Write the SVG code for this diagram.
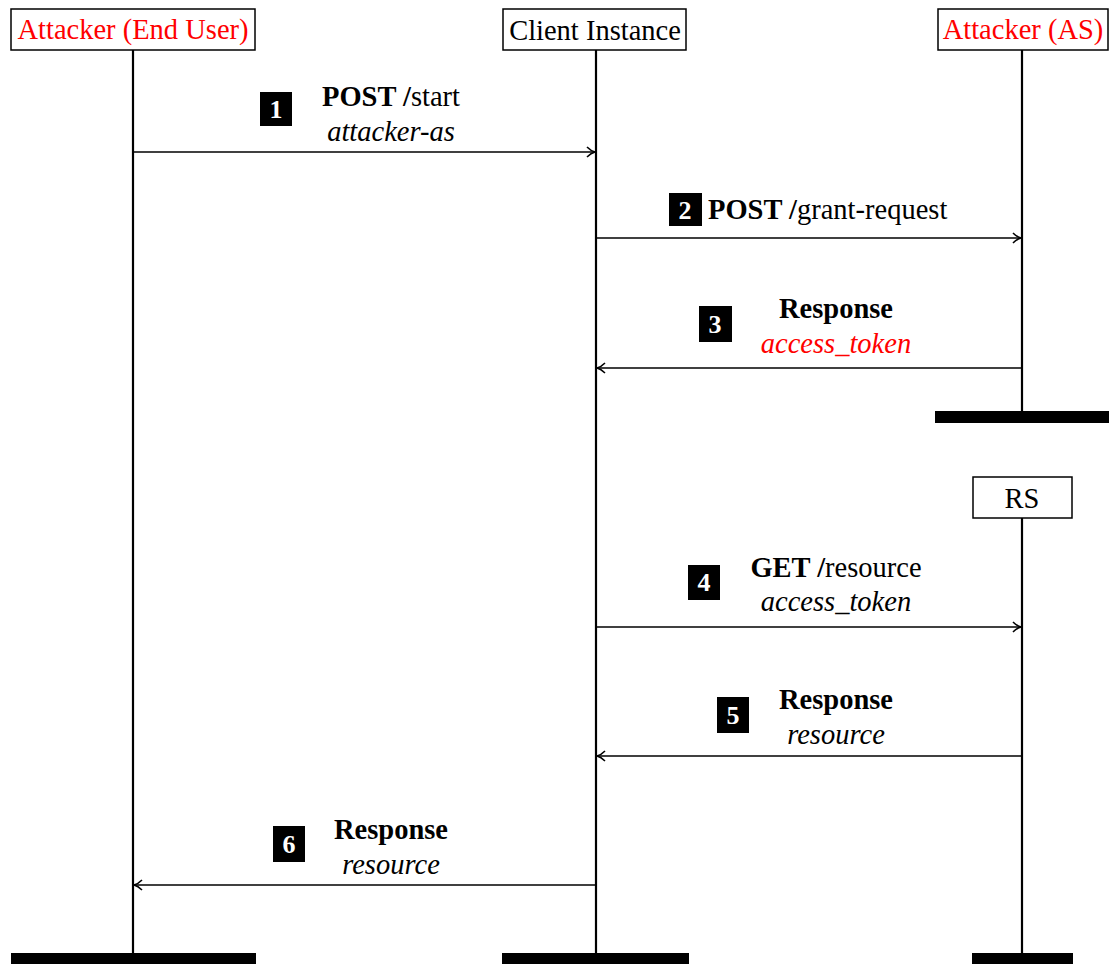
<svg xmlns="http://www.w3.org/2000/svg" width="1109" height="964" viewBox="0 0 1109 964">
<style>
text{font-family:"Liberation Serif","Times New Roman",serif;font-size:28.5px;fill:#000}
.red{fill:#ff0000}
.b{font-weight:bold}
.i{font-style:italic}
.box{fill:#fff;stroke:#000;stroke-width:1.5}
.life{stroke:#000;stroke-width:2.2;fill:none}
.bar{fill:#000}
.msg{stroke:#000;stroke-width:1.6;fill:none;marker-end:url(#ah)}
.badge{fill:#000}
.num{fill:#fff;font-weight:bold;font-size:26px;text-anchor:middle}
.c{text-anchor:middle}
</style>
<defs>
<marker id="ah" markerWidth="14" markerHeight="14" refX="10" refY="7" orient="auto" markerUnits="userSpaceOnUse">
<path d="M2,2 Q6,6 10,7 Q6,8 2,12" fill="none" stroke="#000" stroke-width="1.6"/>
</marker>
</defs>
<rect width="1109" height="964" fill="#fff"/>
<g id="lifelines">
<line class="life" x1="133" y1="50" x2="133" y2="953"/>
<line class="life" x1="596" y1="50" x2="596" y2="953"/>
<line class="life" x1="1022" y1="50" x2="1022" y2="411"/>
<line class="life" x1="1022" y1="518" x2="1022" y2="953"/>
</g>
<g id="enduser">
<rect class="box" x="11" y="9" width="244" height="41"/>
<text class="red c" x="133" y="39">Attacker (End User)</text>
<rect class="bar" x="11" y="953" width="245" height="11"/>
</g>
<g id="client">
<rect class="box" x="503" y="9" width="183" height="41"/>
<text class="c" x="595" y="40">Client Instance</text>
<rect class="bar" x="502" y="953" width="187" height="11"/>
</g>
<g id="as">
<rect class="box" x="938" y="9" width="170" height="41"/>
<text class="red c" x="1023" y="39">Attacker (AS)</text>
<rect class="bar" x="935" y="411" width="174" height="12"/>
</g>
<g id="rs">
<rect class="box" x="973" y="477" width="99" height="41"/>
<text class="c" x="1022" y="508">RS</text>
<rect class="bar" x="972" y="953" width="101" height="11"/>
</g>
<g id="connectors">
<line class="msg" x1="134" y1="152" x2="595" y2="152"/>
<line class="msg" x1="597" y1="238" x2="1021" y2="238"/>
<line class="msg" x1="1021" y1="368" x2="597" y2="368"/>
<line class="msg" x1="597" y1="627" x2="1021" y2="627"/>
<line class="msg" x1="1021" y1="756" x2="597" y2="756"/>
<line class="msg" x1="595" y1="885" x2="134" y2="885"/>
</g>
<g id="label1">
<rect class="badge" x="260" y="92" width="32" height="34"/>
<text class="num" x="276" y="118">1</text>
<text class="c" x="391" y="106"><tspan class="b">POST /</tspan>start</text>
<text class="c i" x="391" y="141">attacker-as</text>
</g>
<g id="label2">
<rect class="badge" x="669" y="193" width="33" height="33"/>
<text class="num" x="685" y="219">2</text>
<text x="708" y="219"><tspan class="b">POST /</tspan>grant-request</text>
</g>
<g id="label3">
<rect class="badge" x="699" y="306" width="33" height="36"/>
<text class="num" x="715" y="333">3</text>
<text class="c b" x="836" y="318">Response</text>
<text class="c i red" x="836" y="353">access_token</text>
</g>
<g id="label4">
<rect class="badge" x="688" y="565" width="32" height="35"/>
<text class="num" x="704" y="591">4</text>
<text class="c" x="836" y="577"><tspan class="b">GET /</tspan>resource</text>
<text class="c i" x="836" y="611">access_token</text>
</g>
<g id="label5">
<rect class="badge" x="717" y="697" width="32" height="36"/>
<text class="num" x="733" y="724">5</text>
<text class="c b" x="836" y="709">Response</text>
<text class="c i" x="836" y="744">resource</text>
</g>
<g id="label6">
<rect class="badge" x="273" y="826" width="32" height="36"/>
<text class="num" x="289" y="853">6</text>
<text class="c b" x="391" y="839">Response</text>
<text class="c i" x="391" y="874">resource</text>
</g>
</svg>
